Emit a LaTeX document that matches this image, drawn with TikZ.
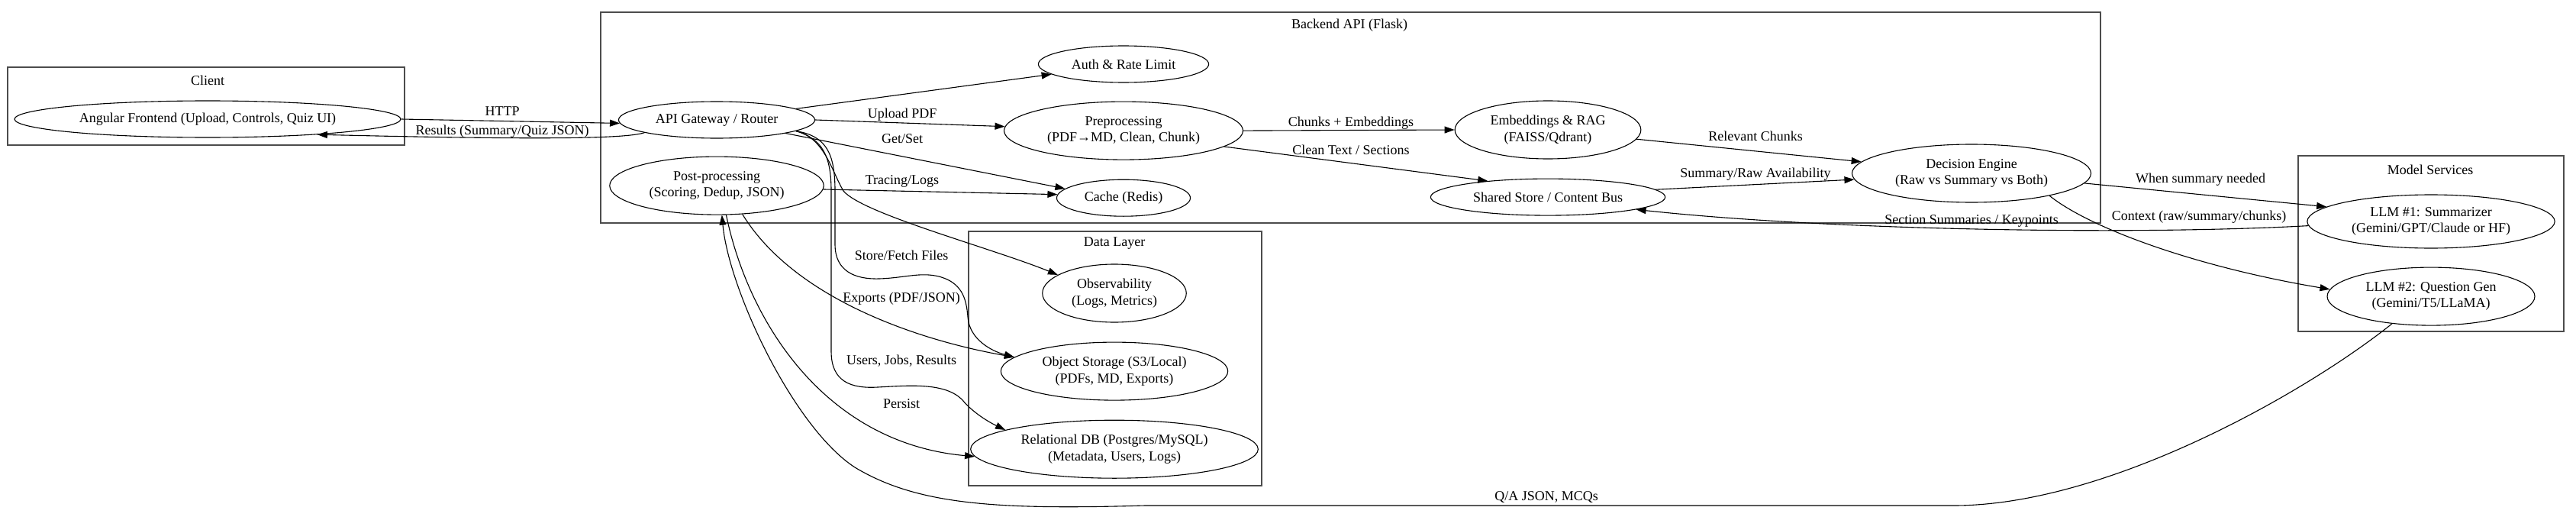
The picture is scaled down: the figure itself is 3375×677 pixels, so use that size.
\documentclass[tikz,border=0pt]{standalone}
\usepackage{fontspec}
\setmainfont{Liberation Serif}
\usetikzlibrary{positioning,shapes.geometric,arrows.meta}
\tikzstyle{block}=[ellipse, draw=black, line width=1.1pt, inner xsep=10.67pt, inner ysep=5.33pt,
        minimum height=48pt, align=center, font=\fontsize{18}{21.5}\selectfont]
\tikzstyle{tall}=[minimum height=76pt]
\tikzstyle{cluster}=[draw=black!70, line width=2pt]
\tikzstyle{caption}=[font=\fontsize{18}{21.5}\selectfont, inner sep=0pt]
\tikzstyle{flow}=[draw=black, line width=1.1pt, -{Triangle[length=13pt,width=9pt]}]

\begin{document}
\begin{tikzpicture}[x=1pt, y=-1pt, node distance=25pt]
        \useasboundingbox (0,0) rectangle (3375,677);

        \draw[cluster] (10,88) rectangle (530,190);
        \node (Client) [caption] at (272,105) {Client};
        \draw[cluster] (787,16) rectangle (2752,292);
        \node (Backend) [caption] at (1768,33) {Backend API (Flask)};
        \draw[cluster] (1269,303) rectangle (1653,636);
        \node (DataLayer) [caption] at (1460,319) {Data Layer};
        \draw[cluster] (3011,204) rectangle (3359,434);
        \node (ModelServices) [caption] at (3184,222) {Model Services};

        \node (Frontend) [block] at (272,156) {Angular Frontend (Upload, Controls, Quiz UI)};
        \node (Gateway) [block] at (939,157) {API Gateway / Router};
        \node (Postproc) [block, tall, below=23pt of Gateway] {Post-processing\\(Scoring, Dedup, JSON)};
        \node (Auth) [block] at (1472,84) {Auth \& Rate Limit};
        \node (Preproc) [block, tall, below=24pt of Auth] {Preprocessing\\(PDF→MD, Clean, Chunk)};
        \node (Cache) [block, below=25pt of Preproc] {Cache (Redis)};
        \node (Embed) [block, tall] at (2028,170) {Embeddings \& RAG\\(FAISS/Qdrant)};
        \node (Shared) [block, below=25pt of Embed] {Shared Store / Content Bus};
        \node (Decision) [block, tall] at (2583,227) {Decision Engine\\(Raw vs Summary vs Both)};
        \node (Obs) [block, tall] at (1460,384) {Observability\\(Logs, Metrics)};
        \node (ObjStore) [block, tall, below=25pt of Obs] {Object Storage (S3/Local)\\(PDFs, MD, Exports)};
        \node (RelDB) [block, tall, below=25pt of ObjStore] {Relational DB (Postgres/MySQL)\\(Metadata, Users, Logs)};
        \node (LLM1) [block, minimum height=70pt] at (3185,290) {LLM \#1: Summarizer\\(Gemini/GPT/Claude or HF)};
        \node (LLM2) [block, tall, below=24pt of LLM1] {LLM \#2: Question Gen\\(Gemini/T5/LLaMA)};

        \draw[flow] (Frontend.east) -- (Gateway.182) node[caption] at (658,146) {HTTP};
        \draw[flow] (Gateway.190) .. controls (820,182) and (700,183) .. (Frontend.352)
                node[caption] at (658,172) {Results (Summary/Quiz JSON)};
        \draw[flow] (Gateway.8) -- (Auth.188);
        \draw[flow] (Gateway.east) -- (Preproc.178) node[caption] at (1182,150) {Upload PDF};
        \draw[flow] (Gateway.-11) -- (Cache.171) node[caption] at (1182,182) {Get/Set};
        \draw[flow] (Postproc.-2) -- (Cache.177) node[caption] at (1182,237) {Tracing/Logs};
        \draw[flow] (Preproc.east) -- (Embed.west) node[caption] at (1770,161) {Chunks + Embeddings};
        \draw[flow] (Preproc.-9) -- (Shared.165) node[caption] at (1770,196) {Clean Text / Sections};
        \draw[flow] (Embed.-6) -- (Decision.174) node[caption] at (2300,178) {Relevant Chunks};
        \draw[flow] (Shared.4) -- (Decision.183) node[caption] at (2300,228) {Summary/Raw Availability};
        \draw[flow] (Decision.-5) -- (LLM1.172) node[caption] at (2883,235) {When summary needed};
        \draw[flow] (LLM1.182) .. controls (2800,308) and (2400,302) .. (Shared.-8)
                node[caption] at (2583,289) {Section Summaries / Keypoints};
        \draw[flow] (Decision.-16) .. controls (2740,300) and (2880,350) .. (LLM2.176)
                node[caption] at (2881,284) {Context (raw/summary/chunks)};
        \draw[flow] (LLM2.215) .. controls (3020,515) and (2760,662) .. (2560,662) -- (1500,662)
                .. controls (1300,668) and (1200,660) .. (1120,612)
                .. controls (1040,560) and (955,380) .. (Postproc.-80)
                node[caption] at (2026,651) {Q/A JSON, MCQs};
        \draw[flow] (Gateway.-8) .. controls (1080,180) and (1090,225) .. (1105,250)
                .. controls (1130,280) and (1300,325) .. (Obs.162);
        \draw[flow] (Gateway.-8) .. controls (1082,178) and (1094,200) .. (1094,250) -- (1094,320)
                .. controls (1094,355) and (1120,366) .. (1152,365)
                .. controls (1185,364) and (1205,356) .. (1230,362)
                .. controls (1260,370) and (1266,390) .. (1268,415)
                .. controls (1270,445) and (1300,460) .. (ObjStore.172)
                node[caption] at (1181,334) {Store/Fetch Files};
        \draw[flow] (Gateway.-8) .. controls (1078,182) and (1089,205) .. (1089,250) -- (1089,460)
                .. controls (1089,500) and (1115,509) .. (1150,507)
                .. controls (1190,505) and (1240,500) .. (1262,525)
                .. controls (1272,537) and (1290,550) .. (RelDB.170)
                node[caption] at (1181,473) {Users, Jobs, Results};
        \draw[flow] (Postproc.-48) .. controls (1040,390) and (1200,445) .. (ObjStore.172)
                node[caption] at (1181,391) {Exports (PDF/JSON)};
        \draw[flow] (Postproc.-72) .. controls (980,420) and (1080,580) .. (RelDB.183)
                node[caption] at (1181,529) {Persist};
\end{tikzpicture}
\end{document}
